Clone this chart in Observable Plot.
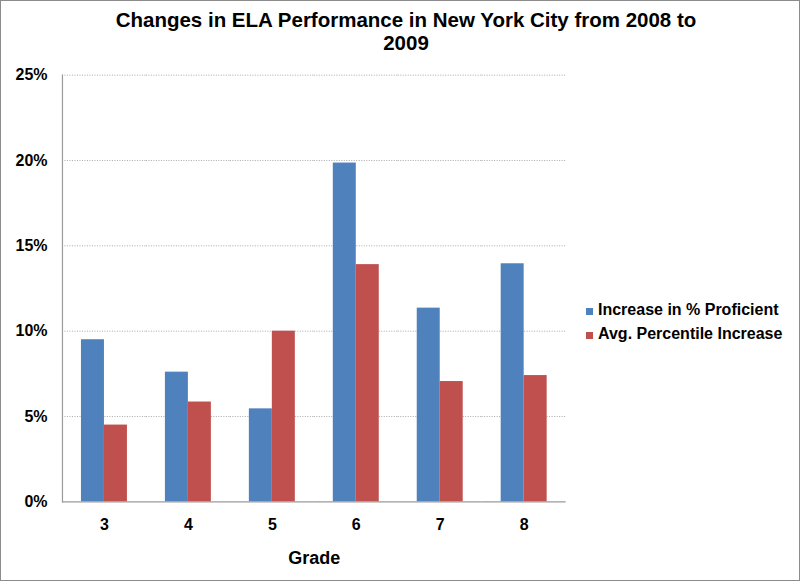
<!DOCTYPE html>
<html>
<head>
<meta charset="utf-8">
<script src="https://cdn.jsdelivr.net/npm/d3@7"></script>
<script src="https://cdn.jsdelivr.net/npm/@observablehq/plot@0.6"></script>
<style>
  html, body { margin: 0; padding: 0; background: #fff; }
  #wrap { position: relative; width: 800px; height: 581px; box-sizing: border-box; border: 1.5px solid #8c8c8c; overflow: hidden; font-family: "Liberation Sans", Arial, sans-serif; }
  #chart { position: absolute; left: -1.5px; top: -1.5px; }
  #title { position: absolute; left: 0; width: 810px; top: 7px; text-align: center; font-weight: bold; font-size: 20.5px; line-height: 23px; color: #000; }
  #legend { position: absolute; left: 585px; top: 297px; font-weight: bold; font-size: 16px; color: #000; }
  .row { display: flex; align-items: center; height: 24px; }
  .sw { width: 7px; height: 7px; margin-right: 5px; margin-top: 2px; }
</style>
</head>
<body>
<div id="wrap">
  <div id="chart"></div>
  <div id="title">Changes in ELA Performance in New York City from 2008 to<br>2009</div>
  <div id="legend"></div>
</div>
<script>
const grades = ["3", "4", "5", "6", "7", "8"];
const seriesNames = ["Increase in % Proficient", "Avg. Percentile Increase"];
const proficient = [9.5, 7.6, 5.45, 19.85, 11.35, 13.95];
const percentile = [4.5, 5.85, 10.0, 13.9, 7.05, 7.4];
const colors = ["#4F81BD", "#C0504D"];
const yTicks = [0, 5, 10, 15, 20, 25];

const data = [];
grades.forEach((g, i) => {
  data.push({grade: g, series: seriesNames[0], value: proficient[i]});
  data.push({grade: g, series: seriesNames[1], value: percentile[i]});
});

const chart = Plot.plot({
  width: 800,
  height: 581,
  marginLeft: 60,
  marginRight: 233,
  marginTop: 74.7,
  marginBottom: 79.3,
  style: {fontFamily: '"Liberation Sans", Arial, sans-serif', background: "transparent"},
  fx: {domain: grades, padding: 0},
  x: {domain: seriesNames, paddingInner: 0, paddingOuter: 0.76, axis: null},
  y: {domain: [0, 25]},
  color: {domain: seriesNames, range: colors},
  marks: [
    Plot.gridY(yTicks.filter(d => d > 0), {stroke: "#a8a8a8", strokeOpacity: 1, strokeDasharray: "1,1.5"}),
    Plot.barY(data, {fx: "grade", x: "series", y: "value", fill: "series", inset: 0}),
    Plot.ruleY([0], {stroke: "#9a9a9a", strokeWidth: 1.2}),
    Plot.frame({anchor: "left", facetAnchor: "left", stroke: "#9a9a9a", strokeWidth: 1.2}),
    Plot.axisY({ticks: yTicks, tickFormat: d => d + "%", tickSize: 0, tickPadding: 15, fontSize: 16, fontWeight: "bold", fill: "#000", label: null}),
    Plot.axisFx({anchor: "bottom", tickSize: 0, tickPadding: 17, fontSize: 16, fontWeight: "bold", fill: "#000", label: null}),
    Plot.axisFx({anchor: "bottom", ticks: [], tickSize: 0, fontSize: 18, fontWeight: "bold", fill: "#000", label: "Grade", labelAnchor: "center", labelOffset: 62})
  ]
});
document.getElementById("chart").appendChild(chart);

const legend = document.getElementById("legend");
seriesNames.forEach((s, i) => {
  const row = document.createElement("div");
  row.className = "row";
  const sw = document.createElement("div");
  sw.className = "sw";
  sw.style.background = colors[i];
  const t = document.createElement("span");
  t.textContent = s;
  row.appendChild(sw);
  row.appendChild(t);
  legend.appendChild(row);
});
</script>
</body>
</html>
